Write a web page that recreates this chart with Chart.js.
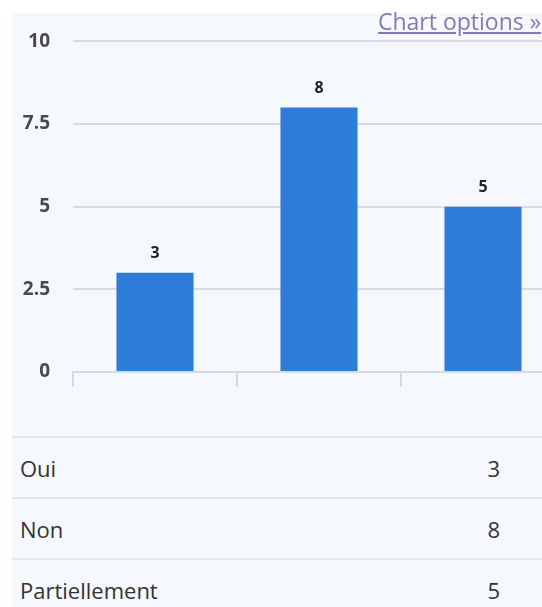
<!DOCTYPE html>
<html>
<head>
<meta charset="utf-8">
<script src="https://cdn.jsdelivr.net/npm/chart.js@4"></script>
<style>
  html, body { margin: 0; padding: 0; background: #fff; width: 542px; height: 607px; overflow: hidden; font-family: "Open Sans", sans-serif; }
  #wrap { position: absolute; left: 12px; top: 13px; width: 530px; height: 594px; background: #f5f8fc; overflow: hidden; }
  #cv { position: absolute; left: 0; top: -6px; }
  #opts { position: absolute; left: 378px; top: 5px; font-size: 23px; color: #8a78b2; text-decoration: underline; white-space: nowrap; font-family: "Open Sans", sans-serif; }
  table { position: absolute; left: 12px; top: 436px; width: 530px; border-collapse: collapse; font-size: 22px; color: #333; }
  td { height: 59px; border-top: 2px solid #e3e7ec; padding: 0; }
  td.l { padding-left: 8px; }
  td.v { text-align: right; padding-right: 42px; }
</style>
</head>
<body>
<div id="wrap"><canvas id="cv" width="570" height="406"></canvas></div>
<div id="opts">Chart options »</div>
<table id="tbl"></table>
<script>
const categories = ["Oui", "Non", "Partiellement"];
const values = [3, 8, 5];
const yTicks = [0, 2.5, 5, 7.5, 10];

const tbl = document.getElementById('tbl');
categories.forEach((c, i) => {
  const tr = document.createElement('tr');
  tr.innerHTML = '<td class="l"></td><td class="v"></td>';
  tr.children[0].textContent = c;
  tr.children[1].textContent = values[i];
  tbl.appendChild(tr);
});

const valueLabels = {
  id: 'valueLabels',
  afterDatasetsDraw(chart) {
    const ctx = chart.ctx;
    const meta = chart.getDatasetMeta(0);
    ctx.save();
    ctx.font = 'bold 16px "Open Sans", sans-serif';
    ctx.fillStyle = '#222';
    ctx.textAlign = 'center';
    ctx.textBaseline = 'middle';
    meta.data.forEach((bar, i) => {
      ctx.fillText(String(values[i]), bar.x, bar.y - 19);
    });
    ctx.restore();
  }
};

const cv = document.getElementById('cv');
new Chart(cv, {
  type: 'bar',
  data: {
    labels: categories,
    datasets: [{ data: values, backgroundColor: '#2e7dd8', borderWidth: 0, barPercentage: 0.47, categoryPercentage: 1 }]
  },
  options: {
    responsive: false,
    animation: false,
    devicePixelRatio: 1,
    layout: { padding: { top: 21, right: 17, bottom: 21, left: 0 } },
    plugins: { legend: { display: false }, tooltip: { enabled: false } },
    scales: {
      x: {
        grid: { display: true, drawOnChartArea: false, drawTicks: true, tickLength: 15, color: '#d5dbe2', lineWidth: 2, offset: true },
        border: { display: true, color: '#d5dbe2', width: 2 },
        ticks: { display: false },
        afterFit: s => { s.height = 20; }
      },
      y: {
        min: 0, max: 10,
        afterBuildTicks: s => { s.ticks = yTicks.map(v => ({ value: v })); },
        grid: { color: '#d9dcdf', lineWidth: 2, drawTicks: false },
        border: { display: false },
        ticks: { color: '#4a4a4a', font: { family: '"Open Sans", sans-serif', size: 19, weight: 'bold' }, padding: 23, callback: v => String(v) },
        afterFit: s => { s.width = 61; }
      }
    }
  },
  plugins: [valueLabels]
});
</script>
</body>
</html>
